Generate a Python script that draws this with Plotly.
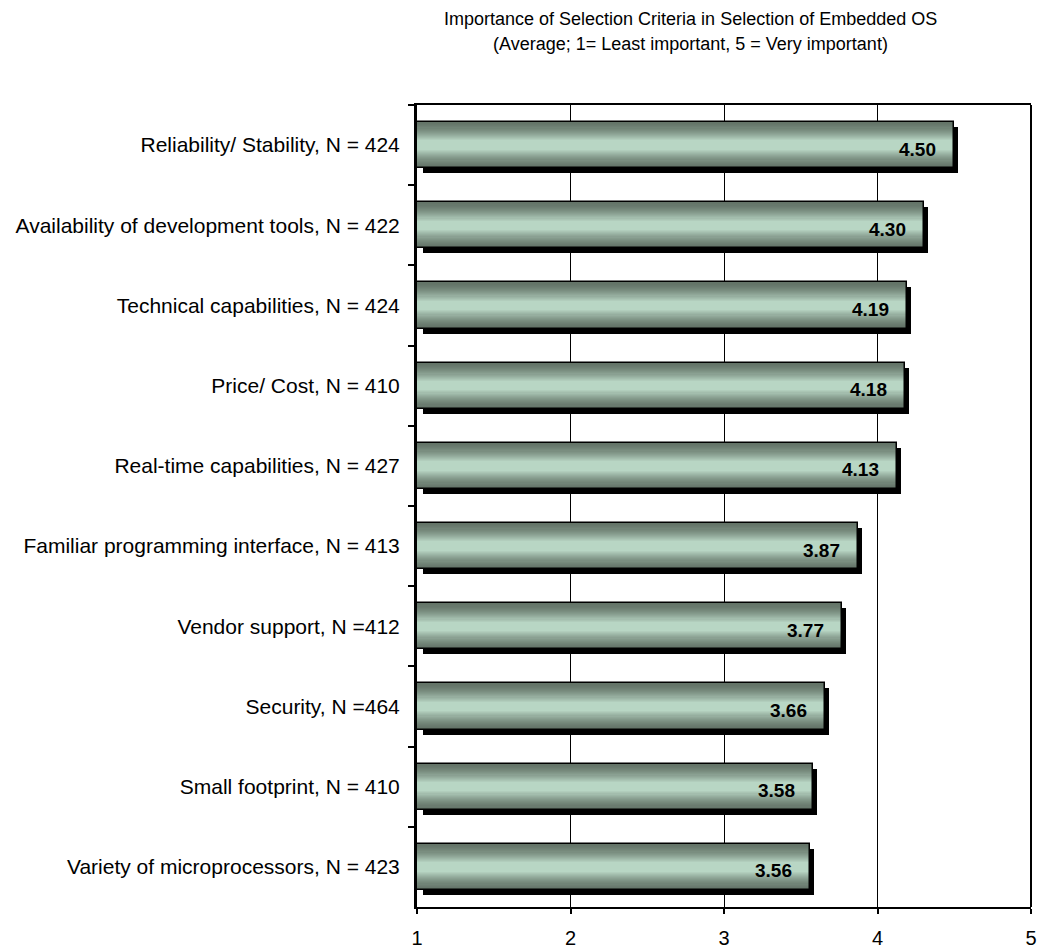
import plotly.graph_objects as go

categories = [
    "Reliability/ Stability, N = 424",
    "Availability of development tools, N = 422",
    "Technical capabilities, N = 424",
    "Price/ Cost, N = 410",
    "Real-time capabilities, N = 427",
    "Familiar programming interface, N = 413",
    "Vendor support, N =412",
    "Security, N =464",
    "Small footprint, N = 410",
    "Variety of microprocessors, N = 423",
]
values = [4.50, 4.30, 4.19, 4.18, 4.13, 3.87, 3.77, 3.66, 3.58, 3.56]
x_ticks = [1, 2, 3, 4, 5]

title1 = "Importance of Selection Criteria in Selection of Embedded OS"
title2 = "(Average; 1= Least important, 5 = Very important)"

FONT = "Liberation Sans, Arial, sans-serif"
BAR_W = 0.575
AX_MIN, AX_MAX = 1, 5
px_per_unit = 614 / (AX_MAX - AX_MIN)
dx_left = 6 / px_per_unit
dx_right = 4 / px_per_unit
dy = 5 / 80.2

fig = go.Figure()

# shadow
fig.add_trace(go.Bar(
    y=categories, x=[v - AX_MIN - dx_left + dx_right for v in values],
    base=AX_MIN + dx_left, orientation="h",
    width=BAR_W, offset=-BAR_W / 2 + dy,
    marker=dict(color="black", line=dict(width=0)),
    hoverinfo="skip", showlegend=False,
))

# gradient layers
dark = (100, 116, 104)
light = (184, 214, 196)
N = 18
for k in range(N):
    t = k / (N - 1)
    e = t ** 1.5
    col = tuple(round(dark[i] + (light[i] - dark[i]) * e) for i in range(3))
    w = BAR_W * (1 - t * 0.8)
    fig.add_trace(go.Bar(
        y=categories, x=[v - AX_MIN for v in values], base=AX_MIN,
        orientation="h", width=w,
        marker=dict(color="rgb(%d,%d,%d)" % col, line=dict(width=0)),
        hoverinfo="skip", showlegend=False,
    ))

# outline
fig.add_trace(go.Bar(
    y=categories, x=[v - AX_MIN for v in values], base=AX_MIN,
    orientation="h", width=BAR_W,
    marker=dict(color="rgba(0,0,0,0)", line=dict(width=1.5, color="black")),
    hoverinfo="skip", showlegend=False,
))

for c, v in zip(categories, values):
    fig.add_annotation(
        x=v, y=c, text="<b>%.2f</b>" % v, showarrow=False,
        xanchor="right", xshift=-16, yshift=-4,
        font=dict(family=FONT, size=19, color="black"),
    )

fig.add_annotation(x=0.445, y=(907 - 19) / 802, xref="paper", yref="paper",
                   text=title1, showarrow=False, xanchor="center", yanchor="middle",
                   font=dict(family=FONT, size=18, color="black"))
fig.add_annotation(x=0.445, y=(907 - 44) / 802, xref="paper", yref="paper",
                   text=title2, showarrow=False, xanchor="center", yanchor="middle",
                   font=dict(family=FONT, size=18, color="black"))

# right border
fig.add_shape(type="line", xref="paper", yref="paper", x0=1, x1=1, y0=0, y1=1,
              line=dict(color="black", width=2))

fig.update_layout(
    width=1039, height=949,
    margin=dict(l=417, r=8, t=105, b=42, pad=0, autoexpand=False),
    barmode="overlay", bargap=0,
    plot_bgcolor="white", paper_bgcolor="white",
    font=dict(family=FONT, size=16, color="black"),
    xaxis=dict(range=[AX_MIN, AX_MAX], tickvals=x_ticks, ticktext=[str(t) for t in x_ticks],
               showgrid=True, gridcolor="black", gridwidth=1, automargin=False,
               showline=True, linecolor="black", linewidth=2, mirror=True,
               ticks="outside", ticklen=5, tickcolor="black", tickwidth=2,
               ticklabelstandoff=7, zeroline=False,
               tickfont=dict(family=FONT, size=20, color="black")),
    yaxis=dict(type="category", autorange="reversed", tickson="boundaries",
               showline=True, linecolor="black", linewidth=3, automargin=False,
               ticks="outside", ticklen=6, tickcolor="black", tickwidth=2,
               ticklabelstandoff=10, showgrid=False,
               tickfont=dict(family=FONT, size=21, color="black")),
)

fig.write_html("out.html")
